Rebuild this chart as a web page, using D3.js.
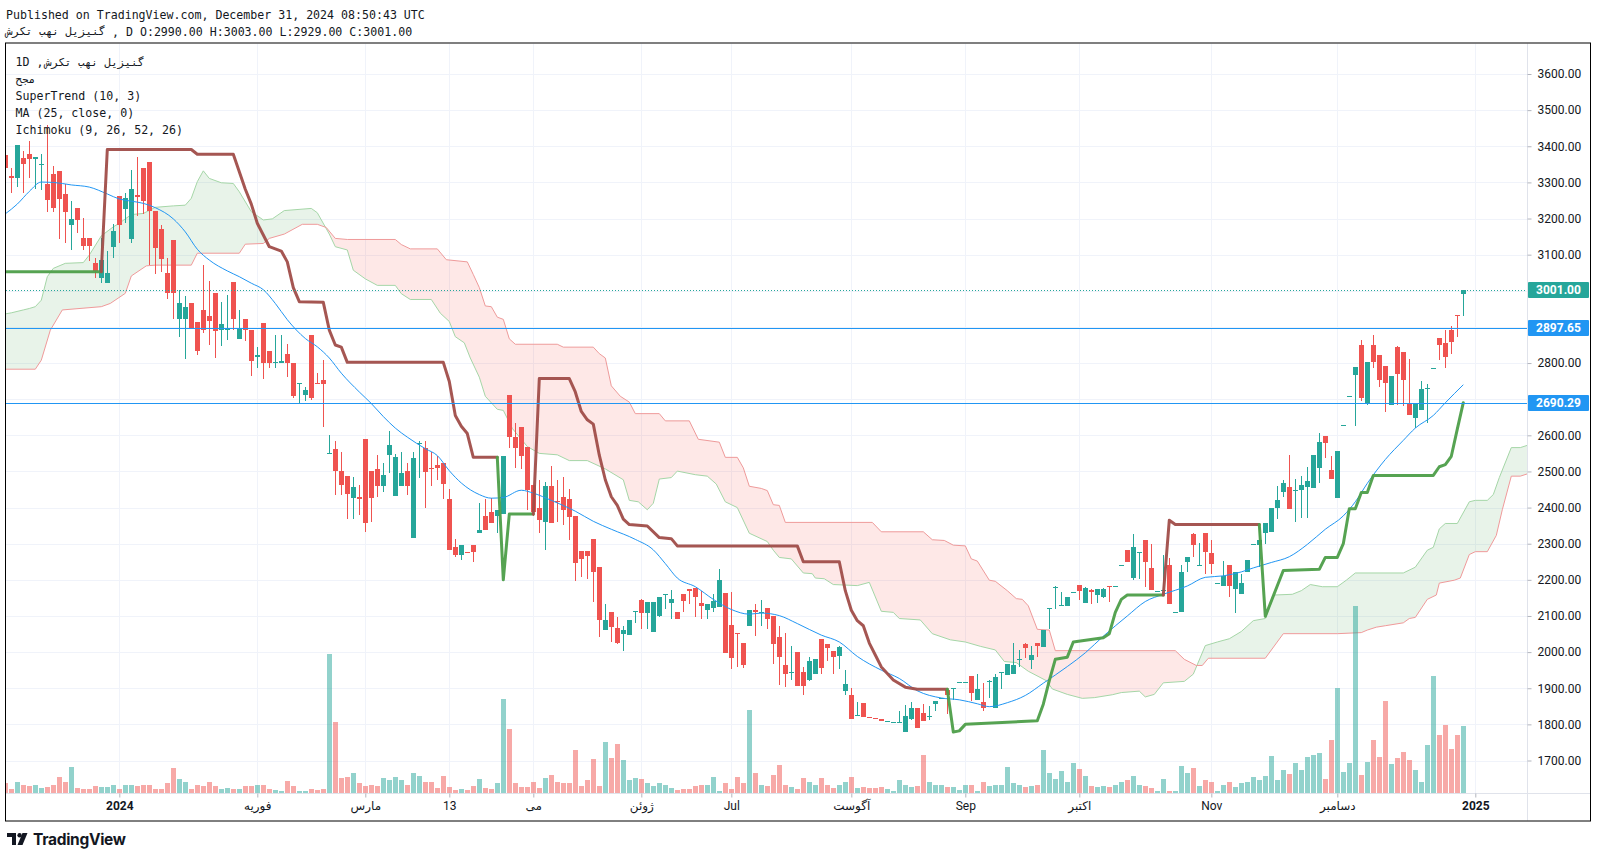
<!DOCTYPE html>
<html><head><meta charset="utf-8">
<script src="https://cdn.jsdelivr.net/npm/d3@7"></script>
<style>
html,body{margin:0;padding:0;background:#fff;}
svg{display:block;}
</style></head>
<body><svg id="chart" width="1598" height="858"></svg>
<script>
// ---------------- DATA ----------------
const symbolName = "گنیزیل نهب تکرش";
const volumeLabel = "مجح";
const tickIdx = [19, 42, 60, 74, 88, 106, 121, 141, 160, 179, 201, 222, 245];
const tickText = ["2024", "فوريه", "مارس", "13", "مى", "ژوئن", "Jul", "آگوست", "Sep", "اکتبر", "Nov", "دسامبر", "2025"];
const priceTicks = [1700, 1800, 1900, 2000, 2100, 2200, 2300, 2400, 2500, 2600, 2700, 2800, 2900, 3000, 3100, 3200, 3300, 3400, 3500, 3600];

const candleOpen = [
3376,3319,3311,3367,3378,3364,3350,3296,3323,3331,
3267,3183,3228,3147,3147,3078,3035,3021,3122,3262,
3226,3143,3266,3341,3356,3222,3171,3048,3141,2921,
2921,2966,2915,2948,2930,2995,2891,2893,3024,2867,
2921,2891,2818,2912,2832,2802,2801,2826,2801,2742,
2711,2878,2745,2752,2550,2562,2501,2487,2427,2428,
2589,2501,2507,2459,2546,2433,2459,2501,2317,2577,
2566,2510,2518,2524,2424,2290,2270,2278,2296,2330,
2376,2388,2376,2382,2711,2594,2622,2567,2462,2400,
2361,2460,2417,2430,2423,2377,2280,2280,2314,2235,
2061,2110,2067,2051,2048,2112,2144,2109,2055,2101,
2160,2136,2110,2160,2175,2178,2136,2116,2122,2125,
2164,2075,2054,2025,2071,2116,2110,2122,2099,2042,
1963,1945,2000,1945,1923,1939,2037,2022,2002,1990,
1892,1880,1824,1858,1820,1818,1815,1808,1806,1806,
1779,1815,1844,1832,1820,1856,1873,1895,1899,1915,
1915,1933,1868,1862,1918,1844,1945,1936,1939,1980,
2022,1978,2025,2013,2120,2178,2128,2128,2165,2185,
2136,2172,2158,2152,2184,2183,2240,2282,2205,2275,
2309,2232,2169,2170,2241,2110,2111,2250,2326,2240,
2329,2274,2189,2184,2241,2175,2160,2223,2297,2297,
2329,2333,2400,2442,2456,2447,2450,2457,2453,2510,
2598,2503,2427,2627,2707,2767,2850,2690,2850,2822,
2791,2684,2844,2830,2690,2649,2670,2731,2784,2870,
2856,2891,2932,2990];
const candleHigh = [
3385,3340,3403,3388,3414,3370,3378,3460,3346,3331,
3296,3249,3228,3201,3147,3090,3145,3109,3184,3262,
3270,3335,3370,3341,3356,3222,3183,3090,3141,3001,
2986,2966,2915,3071,3027,2995,2969,2988,3024,2947,
2921,2891,2844,2912,2832,2879,2879,2852,2801,2744,
2735,2878,2773,2808,2601,2584,2554,2487,2485,2463,
2589,2501,2546,2524,2613,2548,2554,2524,2554,2584,
2584,2554,2542,2524,2451,2314,2297,2278,2296,2412,
2424,2427,2394,2542,2711,2633,2622,2567,2462,2476,
2470,2515,2476,2484,2451,2377,2280,2280,2314,2235,
2132,2110,2096,2073,2089,2113,2148,2138,2138,2152,
2162,2172,2110,2160,2175,2178,2170,2134,2160,2231,
2164,2167,2054,2025,2116,2132,2144,2122,2099,2073,
2054,2018,2000,1959,1986,1980,2037,2022,2002,2018,
1951,1900,1862,1858,1820,1818,1815,1809,1807,1838,
1853,1862,1844,1856,1850,1864,1874,1900,1901,1916,
1916,1933,1939,1915,1923,1939,1946,1966,2025,2007,
2025,2018,2025,2061,2121,2184,2167,2152,2166,2187,
2181,2175,2175,2177,2184,2184,2241,2282,2326,2276,
2309,2300,2170,2270,2261,2111,2241,2262,2329,2302,
2329,2309,2190,2252,2241,2223,2217,2255,2298,2353,
2356,2400,2459,2477,2546,2480,2487,2512,2546,2607,
2598,2542,2556,2628,2708,2788,2864,2802,2877,2822,
2791,2763,2846,2830,2811,2690,2749,2741,2785,2870,
2891,2903,2932,3003];
const candleLow = [
3335,3272,3287,3270,3311,3281,3279,3219,3219,3143,
3131,3113,3160,3113,3083,3035,3021,3021,3092,3131,
3187,3131,3207,3213,3071,3047,3053,2977,2921,2873,
2812,2897,2822,2882,2850,2814,2847,2864,2891,2867,
2862,2763,2785,2757,2785,2785,2799,2761,2702,2689,
2696,2698,2741,2623,2550,2436,2436,2368,2368,2380,
2332,2359,2430,2442,2495,2433,2459,2436,2317,2483,
2400,2459,2477,2424,2282,2264,2255,2273,2250,2329,
2337,2356,2329,2382,2564,2509,2507,2394,2376,2329,
2282,2356,2359,2352,2309,2196,2207,2202,2140,2043,
2061,2028,2022,2004,2048,2081,2063,2063,2055,2098,
2120,2093,2093,2110,2134,2096,2093,2093,2110,2125,
1998,1954,1959,1957,2071,2045,2073,2063,1968,1909,
1903,1924,1907,1880,1919,1939,1939,1974,1939,1954,
1880,1815,1824,1821,1819,1817,1810,1808,1806,1806,
1779,1812,1789,1809,1812,1838,1873,1829,1868,1915,
1915,1865,1868,1838,1874,1844,1898,1936,1939,1959,
1983,1954,1986,2013,2063,2120,2128,2128,2165,2144,
2136,2132,2136,2150,2140,2179,2240,2250,2199,2203,
2181,2173,2169,2170,2134,2110,2111,2223,2264,2240,
2217,2217,2189,2184,2152,2108,2160,2223,2297,2235,
2300,2333,2368,2430,2397,2361,2371,2371,2453,2468,
2536,2479,2427,2627,2707,2627,2696,2684,2785,2735,
2664,2684,2684,2681,2655,2621,2670,2633,2784,2808,
2785,2824,2873,2929];
const candleClose = [
3341,3312,3403,3352,3364,3370,3352,3250,3230,3255,
3219,3199,3195,3125,3125,3054,3085,3050,3165,3183,
3258,3281,3260,3248,3220,3119,3089,2994,2995,2966,
2956,2897,2832,2891,2917,2889,2907,2894,2921,2897,
2891,2805,2821,2800,2799,2803,2805,2799,2710,2744,
2725,2702,2742,2743,2552,2501,2463,2438,2456,2425,
2356,2427,2459,2489,2572,2539,2495,2459,2536,2578,
2498,2509,2510,2465,2282,2270,2297,2273,2278,2337,
2337,2356,2394,2542,2594,2564,2544,2449,2389,2366,
2460,2356,2416,2393,2375,2247,2258,2266,2223,2090,
2090,2069,2025,2061,2089,2113,2107,2138,2138,2152,
2162,2146,2093,2142,2170,2152,2128,2134,2142,2199,
1998,1983,2053,1963,2116,2110,2112,2093,2022,1986,
1939,1946,1907,1907,1974,1980,1957,2010,1986,2013,
1912,1815,1825,1821,1819,1817,1810,1809,1807,1807,
1823,1844,1789,1809,1822,1864,1874,1880,1901,1916,
1916,1886,1898,1844,1920,1931,1946,1966,1963,1981,
2010,1992,2016,2061,2121,2179,2129,2152,2166,2170,
2178,2166,2175,2175,2179,2184,2241,2250,2290,2276,
2250,2173,2170,2171,2134,2111,2223,2262,2297,2241,
2276,2243,2190,2211,2184,2223,2191,2255,2298,2311,
2356,2400,2420,2468,2397,2448,2462,2474,2546,2581,
2578,2479,2556,2628,2708,2788,2702,2802,2802,2753,
2746,2763,2769,2752,2655,2690,2728,2732,2785,2850,
2818,2859,2930,3001];
// relative volume (tallest bar = 187.2)
const volume = [
10,4.3,11.5,7.7,7.3,8.5,5.1,5.6,8.5,15.8,
10.7,25.6,5.1,4.3,4.3,7.3,5.6,5.6,7.7,4.3,
7.7,7.7,7.3,7.7,8.5,4.3,4.3,9.8,24.8,14.1,
10.7,4.3,7.7,7.3,10.7,7.3,4.3,5.1,4.3,4.3,
7.3,7.3,7.7,8.5,4.3,3.4,2.1,12.4,7.3,2.1,
2.1,4.3,3.0,3.8,138.9,71.4,15,15.8,20.1,9.8,
7.3,8.5,7.3,15,12.8,16.2,12.8,8.5,20.1,17.1,
11.5,11.5,5.1,17.1,6,3,3.8,3,7.3,13.7,
5.1,4.3,9.8,94,64.5,9.8,5.6,5.6,10.7,5.1,
15,17.9,10.7,9.8,9.8,42.7,7.3,12.8,34.2,7.3,
51.3,35,49.1,32.9,12.8,15,14.1,9.8,7.3,9.8,
8.5,5.1,3.4,4.3,4.3,7.3,8.5,7.7,16.2,2.1,
9.8,4.3,16.2,9.8,83.3,20.1,8.5,7.3,17.9,27.8,
7.7,5.6,4.3,15,11.5,8.5,15,8.5,5.1,7.7,
11.5,16.2,5.1,5.6,5.1,5.1,5.6,4.3,2.1,12.8,
7.7,5.6,7.3,37.6,11.5,7.7,8.5,6.4,6.4,3.0,
7.7,7.7,2.1,10.7,7.3,8.5,8.5,25.6,9.8,7.7,
6.4,7.3,8.5,42.7,20.1,14.1,22.2,11.5,29.9,24.4,
17.1,7.3,6.4,7.3,5.6,8.5,10.7,12.8,17.1,8.5,
7.3,5.1,2.1,13.7,2.1,2.1,26.9,20.1,24.8,7.3,
12.8,10.7,2.1,8.5,11.5,6.4,9.8,11.5,16.2,12.8,
17.1,37.2,12.8,22.6,19.2,29.9,23.5,36.3,37.6,39.7,
13.7,53.4,104.7,21.4,29.9,187.2,18.4,30.8,53.4,36.3,
91.9,28.6,35.5,41.5,32.9,22.6,11.5,47.9,117.5,57.7,
68.4,43.6,57.7,67.1];

// SuperTrend (10,3) vertices: bar index, value, 1 = up-trend (green) / 0 = down-trend (red)
const superIdx = [0,16,17,31,32,38,40,41,42,44,46,47,48,49,53,54,55,56,57,73,74,75,76,77,78,82,
  83,84,88,
  89,94,95,96,97,98,99,100,101,102,103,104,107,109,111,112,132,133,139,140,141,142,143,144,145,146,148,150,152,157,
  158,159,160,172,173,174,175,177,178,183,184,185,186,187,193,
  194,195,209,
  210,213,219,220,222,223,224,225,226,227,228,238,239,240,241,242,243];
const superVal = [3053,3053,3391,3391,3378,3378,3281,3240,3187,3122,3110,3080,3009,2970,2968,2891,2850,2844,2802,2802,2749,2655,2625,2605,2539,2539,
  2200,2382,2382,
  2757,2757,2720,2666,2643,2631,2545,2477,2430,2406,2368,2353,2349,2317,2314,2294,2294,2250,2250,2170,2116,2087,2073,2025,1992,1959,1923,1903,1897,1897,
  1779,1782,1800,1810,1856,1921,1980,1986,2028,2040,2051,2110,2146,2158,2158,
  2365,2353,2353,
  2099,2226,2229,2262,2262,2300,2397,2397,2442,2442,2489,2489,2513,2519,2542,2617,2690.29];
const superUp = [1,1,0,0,0,0,0,0,0,0,0,0,0,0,0,0,0,0,0,0,0,0,0,0,0,0,
  1,1,1,
  0,0,0,0,0,0,0,0,0,0,0,0,0,0,0,0,0,0,0,0,0,0,0,0,0,0,0,0,0,0,
  1,1,1,1,1,1,1,1,1,1,1,1,1,1,1,
  0,0,0,
  1,1,1,1,1,1,1,1,1,1,1,1,1,1,1,1,1];

// MA (25, close) vertices
const maIdx = [0,2,4,6,8,11,14,17,19,21,23,25,28,30,32,34,37,39,41,43,45,47,50,52,54,56,59,61,63,65,67,70,72,74,76,79,81,83,86,88,91,95,98,101,105,108,110,112,115,118,121,124,126,129,132,136,139,142,146,149,152,156,159,162,164,167,170,173,177,180,183,187,190,193,197,200,203,206,208,211,214,217,220,223,225,227,230,233,235,238,240,243];
const maVal = [3213,3240,3275,3301,3300,3293,3287,3268,3254,3248,3242,3230,3199,3163,3115,3085,3055,3039,3021,3003,2965,2920,2868,2845,2814,2772,2720,2688,2652,2620,2595,2563,2544,2502,2468,2436,2426,2428,2448,2440,2420,2390,2362,2340,2312,2283,2245,2205,2181,2146,2118,2105,2108,2101,2079,2047,2028,1988,1950,1927,1893,1873,1868,1857,1849,1860,1880,1914,1960,1998,2044,2100,2140,2160,2183,2207,2211,2222,2233,2248,2264,2298,2340,2377,2416,2467,2533,2586,2620,2655,2690,2740];

// Ichimoku (9,26,52,26) cloud: Senkou Span A and Span B vertices (displaced 26 bars)
const spanAIdx = [0,1,3,4,5,6,7,8,10,13,14,16,18,19,21,23,25,28,30,31,32,33,34,36,38,39,41,43,44.5,46.5,51,52,54,55,57,58,60,62,65,66,67.5,71,72.5,74,75,76.5,77.5,79,80,82,83,84.5,87,89,92,94,97,100,103,104,105.5,107,108,109,111,112,115,117,118.5,120,122,124,127,128,129,131,133,134.5,135,136.5,138,142,144,146,148,149,152.5,154.5,157.5,160,162.5,165,166.5,168.5,170.5,173.5,174.5,177,179.5,181.5,184.5,186,189,190,191.5,193,196.5,198,200,202,204,206,208,210,211.5,214.5,216,217.5,219.5,222,223.5,225,233,235,237,238,239,240,242,244,245,247,248,249,251,252.5,254];
const spanAVal = [2936,2939,2947,2951,2956,2974,3039,3062,3076,3078,3099,3152,3177,3187,3211,3214,3231,3235,3237,3256,3302,3332,3311,3299,3297,3274,3219,3196,3199,3222,3228,3216,3157,3122,3113,3057,3033,3015,3015,2992,2976,2976,2938,2915,2873,2856,2814,2761,2708,2672,2669,2619,2569,2550,2546,2530,2530,2507,2477,2420,2416,2394,2412,2479,2483,2501,2491,2487,2465,2416,2400,2329,2306,2282,2262,2258,2219,2217,2205,2203,2187,2184,2193,2113,2110,2093,2089,2051,2034,2028,2016,2006,1974,1971,1947,1921,1898,1883,1872,1874,1882,1888,1892,1876,1883,1915,1919,1939,2018,2028,2037,2057,2087,2093,2158,2160,2170,2187,2181,2181,2199,2219,2219,2235,2282,2290,2341,2356,2356,2416,2420,2420,2436,2483,2566,2566,2574];
const spanBIdx = [0,5,6,7.5,9.5,16,17.5,20,21,23.5,25,31,32,39,40,43,44,46.5,49.5,52,53.5,55,57,65,66,67.5,72,73.5,77,78,79,80,81,82,83,84,85,92,93,98,99,100,101,102.5,104,105,109,110,114,115.5,119,120,122,123,124,126,127,128,129,130,144.5,146,153,154.5,156.5,158,160,161,162,164,165,167,168.5,169.5,170.5,172,174,175,195,196.5,198.5,199.5,200.5,210,213,222,226,227,228.5,230,233,234,235,237,238.5,239,241.5,242.5,244,245,247,248.5,249.5,251,252.5,254];
const spanBVal = [2783,2783,2808,2891,2947,2956,2965,2993,3041,3069,3071,3071,3104,3104,3129,3131,3145,3157,3184,3184,3175,3145,3142,3142,3128,3116,3116,3086,3080,3045,3009,2958,2956,2927,2921,2867,2852,2852,2844,2844,2826,2814,2737,2708,2692,2660,2660,2640,2640,2589,2581,2539,2539,2510,2459,2453,2447,2408,2406,2359,2359,2333,2333,2311,2309,2296,2294,2258,2252,2199,2196,2170,2148,2146,2128,2063,2061,2004,2004,1980,1963,1963,1983,1983,2051,2051,2054,2061,2069,2073,2081,2093,2096,2146,2158,2191,2199,2205,2270,2278,2278,2323,2394,2487,2487,2495];

const lastPrice = 3001.00;
const hLines = [2897.65, 2690.29];
const headerLine1 = "Published on TradingView.com, December 31, 2024 08:50:43 UTC";
const ohlcText = ", D O:2990.00 H:3003.00 L:2929.00 C:3001.00";
const legendLines = ["SuperTrend (10, 3)", "MA (25, close, 0)", "Ichimoku (9, 26, 52, 26)"];

// ---------------- LAYOUT ----------------
const svg = d3.select("#chart");
const paneL = 6, paneR = 1527, paneT = 43.5, paneB = 793, frameR = 1590, frameB = 820.5;
const x = d3.scaleLinear().domain([0, 243]).range([5.3, 5.3 + 243 * 6]);
const y = d3.scaleLinear().domain([1700, 3600]).range([760.5, 74]);
const yVol = d3.scaleLinear().domain([0, 187.2]).range([paneB, paneB - 187.2]);
const UP = "#26a69a", DOWN = "#ef5350";
const mono = "'DejaVu Sans Mono', 'DejaVu Sans', monospace";
const sans = "Roboto, 'DejaVu Sans', sans-serif";

svg.append("rect").attr("width", 1598).attr("height", 858).attr("fill", "#fff");
const defs = svg.append("defs");
defs.append("clipPath").attr("id", "pane").append("rect")
  .attr("x", paneL).attr("y", paneT).attr("width", paneR - paneL).attr("height", paneB - paneT);

// grid
const grid = svg.append("g").attr("clip-path", "url(#pane)");
grid.selectAll("line.h").data(priceTicks).join("line")
  .attr("x1", paneL).attr("x2", paneR)
  .attr("y1", d => Math.round(y(d)) + 0.5).attr("y2", d => Math.round(y(d)) + 0.5)
  .attr("stroke", "#f0f3fa").attr("stroke-width", 1);
grid.selectAll("line.v").data(tickIdx).join("line")
  .attr("y1", paneT).attr("y2", paneB)
  .attr("x1", d => Math.floor(x(d)) + 0.5).attr("x2", d => Math.floor(x(d)) + 0.5)
  .attr("stroke", "#f0f3fa").attr("stroke-width", 1);

// Ichimoku cloud
const A = spanAIdx.map((k, i) => [x(k), y(spanAVal[i])]);
const B = spanBIdx.map((k, i) => [x(k), y(spanBVal[i])]);
const between = A.concat(B.slice().reverse());
const aboveB = B.concat([[B[B.length - 1][0], paneT - 100], [B[0][0], paneT - 100]]);
const belowB = B.concat([[B[B.length - 1][0], paneB + 100], [B[0][0], paneB + 100]]);
defs.append("clipPath").attr("id", "cA").append("polygon").attr("points", aboveB.map(p => p.join(",")).join(" "));
defs.append("clipPath").attr("id", "cB").append("polygon").attr("points", belowB.map(p => p.join(",")).join(" "));
const cloud = svg.append("g").attr("clip-path", "url(#pane)");
const poly = "M" + between.map(p => p.join(",")).join("L") + "Z";
cloud.append("g").attr("clip-path", "url(#cA)").append("path").attr("d", poly).attr("fill", "rgba(67,160,71,0.12)");
cloud.append("g").attr("clip-path", "url(#cB)").append("path").attr("d", poly).attr("fill", "rgba(244,67,54,0.12)");
const line = d3.line();
cloud.append("path").attr("d", line(A)).attr("fill", "none").attr("stroke", "#a5d6a7").attr("stroke-width", 1);
cloud.append("path").attr("d", line(B)).attr("fill", "none").attr("stroke", "#ef9a9a").attr("stroke-width", 1);

// volume
const idx = d3.range(candleOpen.length);
const isUp = i => candleClose[i] >= candleOpen[i];
const vol = svg.append("g").attr("clip-path", "url(#pane)");
vol.selectAll("rect").data(idx).join("rect")
  .attr("x", i => Math.floor(x(i)) - 2).attr("width", 5)
  .attr("y", i => Math.round(yVol(volume[i])))
  .attr("height", i => paneB - Math.round(yVol(volume[i])))
  .attr("fill", i => isUp(i) ? "rgba(38,166,154,0.5)" : "rgba(239,83,80,0.5)");

// candles
const cg = svg.append("g").attr("clip-path", "url(#pane)");
cg.selectAll("rect.w").data(idx).join("rect")
  .attr("x", i => Math.floor(x(i))).attr("width", 1)
  .attr("y", i => Math.round(y(candleHigh[i])))
  .attr("height", i => Math.max(1, Math.round(y(candleLow[i])) - Math.round(y(candleHigh[i]))))
  .attr("fill", i => isUp(i) ? UP : DOWN);
cg.selectAll("rect.b").data(idx).join("rect")
  .attr("x", i => Math.floor(x(i)) - 2).attr("width", 5)
  .attr("y", i => Math.round(y(Math.max(candleOpen[i], candleClose[i]))))
  .attr("height", i => Math.max(1, Math.round(y(Math.min(candleOpen[i], candleClose[i]))) - Math.round(y(Math.max(candleOpen[i], candleClose[i])))))
  .attr("fill", i => isUp(i) ? UP : DOWN);

// MA
const ind = svg.append("g").attr("clip-path", "url(#pane)");
ind.append("path")
  .attr("d", d3.line().curve(d3.curveMonotoneX)(maIdx.map((k, i) => [x(k), y(maVal[i])])))
  .attr("fill", "none").attr("stroke", "#2196f3").attr("stroke-width", 1);

// SuperTrend: runs of same colour
let runs = [];
let cur = null;
for (let i = 1; i < superIdx.length; i++) {
  const c = superUp[i];
  if (!cur || cur.c !== c) { cur = { c, pts: [[x(superIdx[i - 1]), y(superVal[i - 1])]] }; runs.push(cur); }
  cur.pts.push([x(superIdx[i]), y(superVal[i])]);
}
runs.forEach(r => {
  ind.append("path").attr("d", line(r.pts)).attr("fill", "none")
    .attr("stroke", r.c ? "#4d9e49" : "#a04d49").attr("stroke-width", 3)
    .attr("stroke-linejoin", "round").attr("stroke-linecap", "round").attr("opacity", 0.95);
});

// horizontal lines
ind.append("line").attr("x1", paneL).attr("x2", paneR)
  .attr("y1", Math.round(y(lastPrice)) + 0.5).attr("y2", Math.round(y(lastPrice)) + 0.5)
  .attr("stroke", UP).attr("stroke-width", 1).attr("stroke-dasharray", "1 2");
ind.selectAll("line.hl").data(hLines).join("line")
  .attr("x1", paneL).attr("x2", paneR)
  .attr("y1", d => Math.round(y(d)) + 0.5).attr("y2", d => Math.round(y(d)) + 0.5)
  .attr("stroke", "#2196f3").attr("stroke-width", 1);

// separators and frame
svg.append("line").attr("x1", paneR + 0.5).attr("x2", paneR + 0.5).attr("y1", paneT).attr("y2", frameB).attr("stroke", "#e0e3eb");
svg.append("line").attr("x1", paneL).attr("x2", frameR).attr("y1", paneB + 0.5).attr("y2", paneB + 0.5).attr("stroke", "#e0e3eb");
svg.append("rect").attr("x", paneL - 0.5).attr("y", paneT - 0.5).attr("width", frameR - paneL + 1).attr("height", frameB - paneT + 1)
  .attr("fill", "none").attr("stroke", "#000").attr("stroke-width", 1);

// price labels (boxes) and axis labels hidden behind them
const labels = [{ v: lastPrice, c: UP }, { v: hLines[0], c: "#2196f3" }, { v: hLines[1], c: "#2196f3" }];
const visibleTicks = priceTicks.filter(t => labels.every(l => Math.abs(y(t) - y(l.v)) > 14));

const pAxis = svg.append("g").attr("transform", `translate(${paneR + 0.5},0)`)
  .call(d3.axisRight(y).tickValues(visibleTicks).tickFormat(d => d.toFixed(2)).tickSize(4).tickPadding(6));
pAxis.select(".domain").remove();
pAxis.selectAll("line").attr("stroke", "#b2b5be");
pAxis.selectAll("text").attr("font-family", sans).attr("font-size", 12).attr("fill", "#131722");

// time axis
const tAxis = svg.append("g").attr("transform", `translate(0,${paneB + 0.5})`)
  .call(d3.axisBottom(x).tickValues(tickIdx).tickFormat((d, i) => tickText[i]).tickSize(4).tickPadding(4));
tAxis.select(".domain").remove();
tAxis.selectAll("line").attr("stroke", "#b2b5be");
tAxis.selectAll("text").attr("font-family", sans).attr("font-size", 12).attr("fill", "#131722")
  .attr("font-weight", (d, i) => /^\d{4}$/.test(tickText[i]) ? "bold" : "normal");

labels.forEach(l => {
  const yy = Math.round(y(l.v));
  svg.append("rect").attr("x", paneR + 1).attr("y", yy - 8).attr("width", 61).attr("height", 16).attr("fill", l.c).attr("rx", 1);
  svg.append("text").attr("x", paneR + 31.5).attr("y", yy).attr("dy", "0.35em").attr("text-anchor", "middle")
    .attr("font-family", sans).attr("font-size", 12).attr("font-weight", "bold").attr("fill", "#fff").text(l.v.toFixed(2));
});

// header
const txt = (xx, yy, s, opts = {}) => svg.append("text").attr("x", xx).attr("y", yy).attr("dy", "0.35em")
  .attr("font-family", opts.f || mono).attr("font-size", opts.s || 11.6).attr("fill", opts.c || "#131722")
  .attr("font-weight", opts.w || "normal").attr("text-anchor", "start").text(s);
txt(6, 14.5, headerLine1);
txt(6, 31.5, symbolName, { s: 11 });
txt(112, 31.5, ohlcText);

// legend
txt(15.5, 62, "1D ,");
txt(45, 62, symbolName, { s: 11 });
txt(15.5, 79, volumeLabel, { s: 11 });
legendLines.forEach((s, i) => txt(15.5, 96 + i * 17, s));

// footer logo
const logo = svg.append("g").attr("transform", "translate(7,833)").attr("fill", "#131722");
logo.append("path").attr("d", "M0 0H9V12H5V4H0Z");
logo.append("circle").attr("cx", 12.6).attr("cy", 2.2).attr("r", 2.2);
logo.append("path").attr("d", "M15.5 0H20.5L15.5 12H10.5Z");
svg.append("text").attr("x", 33).attr("y", 845).attr("font-family", "Inter, Roboto, sans-serif")
  .attr("font-size", 15.5).attr("font-weight", "bold").attr("fill", "#131722").attr("letter-spacing", -0.3).text("TradingView");
</script>
</body></html>
